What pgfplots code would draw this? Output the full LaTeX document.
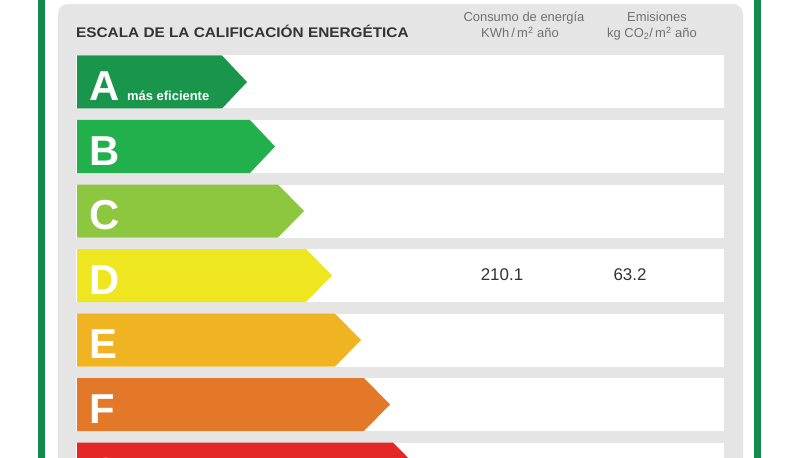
\documentclass[border=0pt]{standalone}
\usepackage{pgfplots}
\pgfplotsset{compat=1.18}
\usepackage{fontspec}
\setmainfont{Liberation Sans}
\definecolor{frameg}{RGB}{18,140,76}
\definecolor{panel}{RGB}{229,229,229}
\definecolor{cA}{RGB}{25,150,75}
\definecolor{cB}{RGB}{33,176,76}
\definecolor{cC}{RGB}{141,198,63}
\definecolor{cD}{RGB}{238,230,30}
\definecolor{cE}{RGB}{240,180,35}
\definecolor{cF}{RGB}{226,120,40}
\definecolor{cG}{RGB}{228,40,40}
\definecolor{hdr}{RGB}{51,51,51}
\definecolor{sub}{RGB}{112,112,112}
\begin{document}
\begin{tikzpicture}
\useasboundingbox (0,0) rectangle (800bp,458bp);
\begin{axis}[at={(0,0)},anchor=south west,width=800bp,height=458bp,scale only axis,
  hide axis,xmin=0,xmax=800,ymin=0,ymax=458,y dir=reverse,clip=true]
% frame and panel
\draw[frameg,line width=6.5bp] (axis cs:41.5,-40) rectangle (axis cs:757.5,540);
\fill[panel,rounded corners=10bp] (axis cs:58,4) rectangle (axis cs:743,560);
% white rows
\fill[white] (axis cs:76,55.5) rectangle (axis cs:724,108.5);
\fill[white] (axis cs:76,120) rectangle (axis cs:724,173);
\fill[white] (axis cs:76,184.5) rectangle (axis cs:724,237.5);
\fill[white] (axis cs:76,249) rectangle (axis cs:724,302);
\fill[white] (axis cs:76,313.5) rectangle (axis cs:724,366.5);
\fill[white] (axis cs:76,378) rectangle (axis cs:724,431);
\fill[white] (axis cs:76,442.5) rectangle (axis cs:724,495.5);
% arrows
\addplot[fill=cA,draw=none] coordinates {(77,55.5) (222,55.5) (247,82) (222,108.5) (77,108.5)};
\addplot[fill=cB,draw=none] coordinates {(77,120) (250,120) (275,146.5) (250,173) (77,173)};
\addplot[fill=cC,draw=none] coordinates {(77,184.5) (278,184.5) (304,211) (278,237.5) (77,237.5)};
\addplot[fill=cD,draw=none] coordinates {(77,249) (306,249) (332,275.5) (306,302) (77,302)};
\addplot[fill=cE,draw=none] coordinates {(77,313.5) (335,313.5) (361,340) (335,366.5) (77,366.5)};
\addplot[fill=cF,draw=none] coordinates {(77,378) (364,378) (390,404.5) (364,431) (77,431)};
\addplot[fill=cG,draw=none] coordinates {(77,442.5) (393,442.5) (419,469) (393,495.5) (77,495.5)};
% letters
\node[white,anchor=base,font=\fontsize{42}{42}\selectfont\bfseries] at (axis cs:105,100.5) {A};
\node[white,anchor=base,font=\fontsize{42}{42}\selectfont\bfseries] at (axis cs:105,165) {B};
\node[white,anchor=base,font=\fontsize{42}{42}\selectfont\bfseries] at (axis cs:105,229.5) {C};
\node[white,anchor=base,font=\fontsize{42}{42}\selectfont\bfseries] at (axis cs:105,294) {D};
\node[white,anchor=base,font=\fontsize{42}{42}\selectfont\bfseries] at (axis cs:103,358.5) {E};
\node[white,anchor=base,font=\fontsize{42}{42}\selectfont\bfseries] at (axis cs:102,423) {F};
\node[white,anchor=base,font=\fontsize{42}{42}\selectfont\bfseries] at (axis cs:106,487.5) {G};
\node[white,anchor=base west,inner sep=0pt,font=\fontsize{13}{13}\selectfont\bfseries] at (axis cs:127,100) {más eficiente};
% header
\node[hdr,anchor=base west,inner sep=0pt,font=\fontsize{14}{14}\selectfont\bfseries] at (axis cs:76,38) {\scalebox{1.1}[1]{ESCALA DE LA CALIFICACIÓN ENERGÉTICA}};
\node[sub,anchor=base,inner sep=0pt,font=\fontsize{13}{13}\selectfont] at (axis cs:524,22) {Consumo de energía};
\node[sub,anchor=base,inner sep=0pt,font=\fontsize{13}{13}\selectfont] at (axis cs:520,37.5) {KWh\,/\,m\textsuperscript{2} año};
\node[sub,anchor=base,inner sep=0pt,font=\fontsize{13}{13}\selectfont] at (axis cs:657,22) {Emisiones};
\node[sub,anchor=base,inner sep=0pt,font=\fontsize{13}{13}\selectfont] at (axis cs:652,37.5) {kg CO\textsubscript{2}/\,m\textsuperscript{2} año};
% values
\node[hdr,anchor=base,inner sep=0pt,font=\fontsize{17}{17}\selectfont] at (axis cs:502,280) {210.1};
\node[hdr,anchor=base,inner sep=0pt,font=\fontsize{17}{17}\selectfont] at (axis cs:630,280) {63.2};
\end{axis}
\end{tikzpicture}
\end{document}
